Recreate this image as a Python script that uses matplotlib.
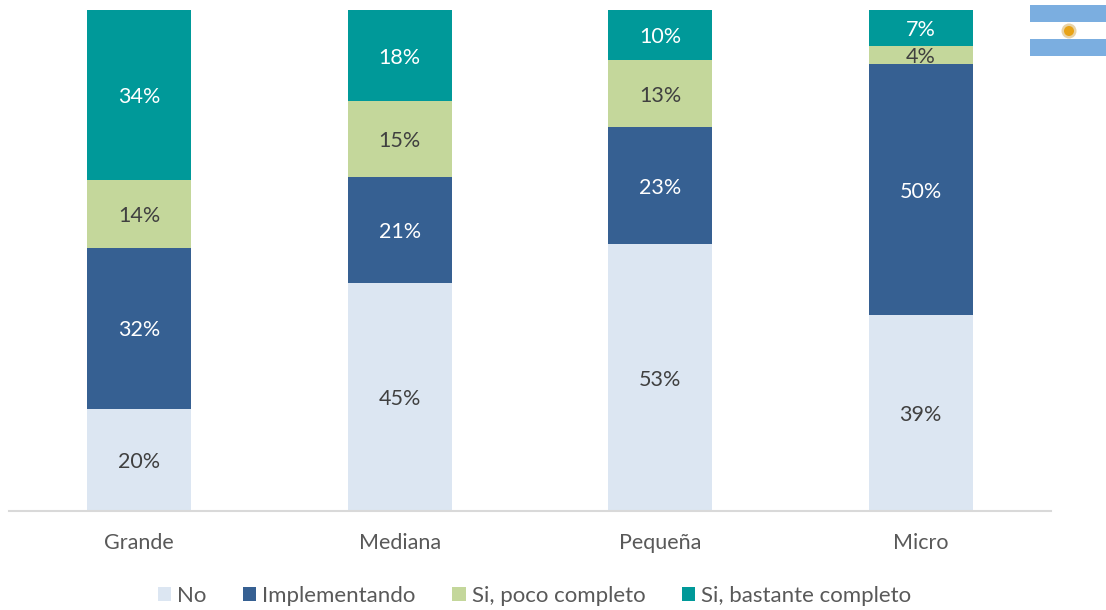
import matplotlib
matplotlib.use('Agg')
import matplotlib.pyplot as plt
from matplotlib.patches import Rectangle, Circle

categories = ['Grande', 'Mediana', 'Pequeña', 'Micro']
series_names = ['No', 'Implementando', 'Si, poco completo', 'Si, bastante completo']
no_vals = [20.4, 45.49, 53.3, 39.1]
impl_vals = [32.1, 21.2, 23.3, 50.1]
poco_vals = [13.6, 15.1, 13.4, 3.6]
bastante_vals = [33.9, 18.2, 10.0, 7.2]

colors = ['#DCE6F2', '#366092', '#C4D79B', '#009999']
label_colors = ['#404040', 'white', '#404040', 'white']

plt.rcParams['font.family'] = ['Lato', 'DejaVu Sans']

W, H = 1106, 610
fig = plt.figure(figsize=(W / 100, H / 100), dpi=100)
ax = fig.add_axes([9 / W, 1 - 511 / H, (1051 - 9) / W, (511 - 10) / H])

# stacked bars
bottom = [0, 0, 0, 0]
for vals, name, c, lc in zip([no_vals, impl_vals, poco_vals, bastante_vals], series_names, colors, label_colors):
    bars = ax.bar(categories, vals, width=0.4, bottom=bottom, color=c, label=name)
    for b, v, s in zip(bars, vals, bottom):
        ax.annotate(f'{v:.0f}%', (b.get_x() + b.get_width() / 2, s + v / 2), xytext=(0, -1.5),
                    textcoords='offset points', ha='center', va='center', color=lc, fontsize=15.5)
    bottom = [s + v for s, v in zip(bottom, vals)]

ax.set_xlim(-0.5, 3.5)
ax.set_ylim(0, 100)
ax.set_yticks([])
for side in ['top', 'left', 'right']:
    ax.spines[side].set_visible(False)
ax.spines['bottom'].set_color('#D9D9D9')
ax.spines['bottom'].set_linewidth(1.5)
ax.tick_params(axis='x', length=0, pad=15.5, labelsize=15.5, labelcolor='#595959')

fig.legend(loc='center', bbox_to_anchor=(534.5 / W, 1 - 596 / H), ncol=4, frameon=False,
           fontsize=16, labelcolor='#595959', handlelength=0.6, handleheight=0.6,
           handletextpad=0.27, columnspacing=1.65, borderpad=0)

# little flag in the corner, pixel coordinates
flag = fig.add_axes([0, 0, 1, 1], facecolor='none')
flag.set_xlim(0, W)
flag.set_ylim(H, 0)
flag.axis('off')
flag.add_patch(Rectangle((1030, 5), 76, 17, color='#7BAEE0', lw=0))
flag.add_patch(Rectangle((1030, 39), 76, 17, color='#7BAEE0', lw=0))
flag.add_patch(Circle((1069, 31), 7.5, color='#E9D3A6', lw=0))
flag.add_patch(Circle((1069, 31), 5, color='#E8A317', lw=0))

fig.savefig('out.png', dpi=100)
